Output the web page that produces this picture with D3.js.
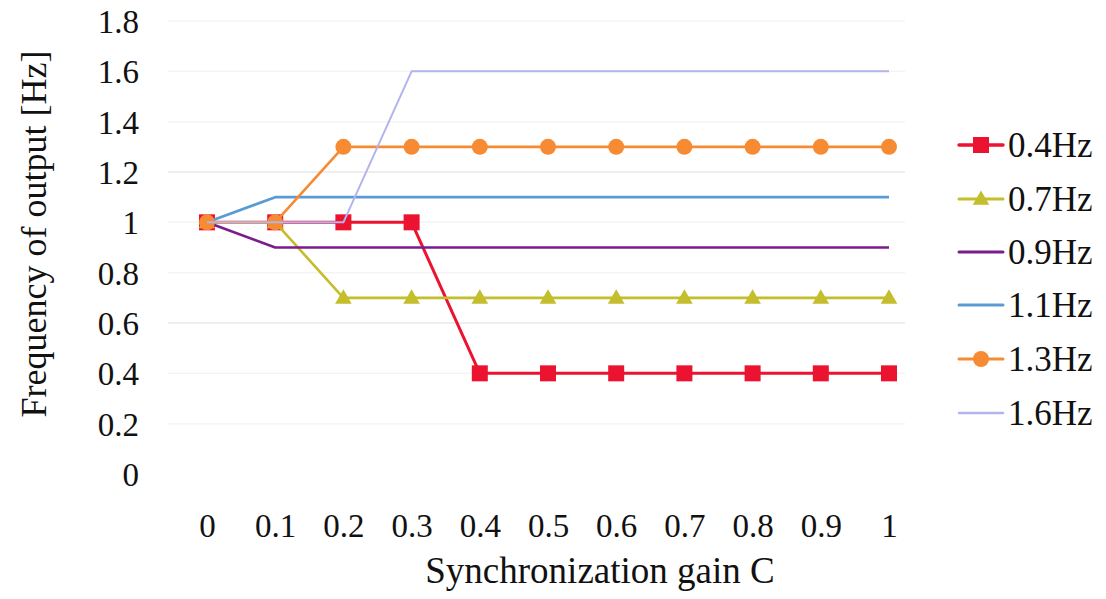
<!DOCTYPE html>
<html>
<head>
<meta charset="utf-8">
<script src="https://cdn.jsdelivr.net/npm/d3@7"></script>
<style>
  html, body { margin: 0; padding: 0; background: #fff; }
  svg { display: block; font-family: "Liberation Serif", "Times New Roman", serif; }
</style>
</head>
<body>
<svg id="chart" width="1106" height="599"></svg>
<script>
// Synchronization gain values along the x axis
const gains = [0, 0.1, 0.2, 0.3, 0.4, 0.5, 0.6, 0.7, 0.8, 0.9, 1];
const gainLabels = ["0", "0.1", "0.2", "0.3", "0.4", "0.5", "0.6", "0.7", "0.8", "0.9", "1"];
const yTicks = [0, 0.2, 0.4, 0.6, 0.8, 1, 1.2, 1.4, 1.6, 1.8];
const yTickLabels = ["0", "0.2", "0.4", "0.6", "0.8", "1", "1.2", "1.4", "1.6", "1.8"];

// Output frequency for each input frequency
const seriesNames = ["0.4Hz", "0.7Hz", "0.9Hz", "1.1Hz", "1.3Hz", "1.6Hz"];
const f04 = [1, 1, 1, 1, 0.4, 0.4, 0.4, 0.4, 0.4, 0.4, 0.4];
const f07 = [1, 1, 0.7, 0.7, 0.7, 0.7, 0.7, 0.7, 0.7, 0.7, 0.7];
const f09 = [1, 0.9, 0.9, 0.9, 0.9, 0.9, 0.9, 0.9, 0.9, 0.9, 0.9];
const f11 = [1, 1.1, 1.1, 1.1, 1.1, 1.1, 1.1, 1.1, 1.1, 1.1, 1.1];
const f13 = [1, 1, 1.3, 1.3, 1.3, 1.3, 1.3, 1.3, 1.3, 1.3, 1.3];
const f16 = [1, 1, 1, 1.6, 1.6, 1.6, 1.6, 1.6, 1.6, 1.6, 1.6];

const styles = [
  { values: f04, color: "#ec1330", width: 3, marker: "square" },
  { values: f07, color: "#c4bd2c", width: 2.6, marker: "triangle" },
  { values: f09, color: "#7b1c8c", width: 2.6, marker: null },
  { values: f11, color: "#5a9bd3", width: 2.6, marker: null },
  { values: f13, color: "#f68b33", width: 2.6, marker: "circle" },
  { values: f16, color: "#b3b3ee", width: 2, marker: null }
];

const svg = d3.select("#chart");

const x = d3.scaleLinear().domain([0, 1]).range([207, 889]);
const y = d3.scaleLinear().domain([0, 1.8]).range([474, 21]);

// faint horizontal gridlines
svg.append("g")
  .selectAll("line")
  .data(yTicks.filter(d => d > 0))
  .join("line")
  .attr("x1", 168).attr("x2", 905)
  .attr("y1", d => y(d)).attr("y2", d => y(d))
  .attr("stroke", d => (d === 0.6 || d === 1.2) ? "#e8e8e8" : "#f4f4f4")
  .attr("stroke-width", 1.5);

// y axis tick labels (no axis line)
const yAxis = d3.axisLeft(y).tickValues(yTicks)
  .tickFormat((d, i) => yTickLabels[i]).tickSize(0).tickPadding(0);
const gy = svg.append("g").attr("transform", "translate(139,0)").call(yAxis);
gy.select(".domain").remove();
gy.selectAll("text")
  .attr("font-family", "Liberation Serif, serif")
  .attr("font-size", 33).attr("fill", "#111")
  .attr("dy", "0.35em");

// x axis tick labels (no axis line)
const xAxis = d3.axisBottom(x).tickValues(gains)
  .tickFormat((d, i) => gainLabels[i]).tickSize(0).tickPadding(0);
const gx = svg.append("g").attr("transform", "translate(0,525)").call(xAxis);
gx.select(".domain").remove();
gx.selectAll("text")
  .attr("font-family", "Liberation Serif, serif")
  .attr("font-size", 33).attr("fill", "#111")
  .attr("dy", "0.35em");

// axis titles
svg.append("text")
  .attr("x", 600).attr("y", 583)
  .attr("text-anchor", "middle")
  .attr("font-size", 37).attr("fill", "#111")
  .text("Synchronization gain C");

svg.append("text")
  .attr("transform", "translate(46,234) rotate(-90)")
  .attr("text-anchor", "middle")
  .attr("font-size", 36).attr("fill", "#111")
  .text("Frequency of output [Hz]");

// series lines
const line = d3.line().x((d, i) => x(gains[i])).y(d => y(d));

function drawMarker(g, type, color, cx, cy) {
  if (type === "square") {
    g.append("rect").attr("x", cx - 8).attr("y", cy - 8)
      .attr("width", 16).attr("height", 16).attr("fill", color);
  } else if (type === "circle") {
    g.append("circle").attr("cx", cx).attr("cy", cy).attr("r", 8).attr("fill", color);
  } else if (type === "triangle") {
    g.append("path")
      .attr("d", d3.symbol().type(d3.symbolTriangle).size(120)())
      .attr("transform", `translate(${cx},${cy + 1})`)
      .attr("fill", color);
  }
}

styles.forEach(s => {
  const g = svg.append("g");
  g.append("path")
    .datum(s.values)
    .attr("d", line)
    .attr("fill", "none")
    .attr("stroke", s.color)
    .attr("stroke-width", s.width)
    .attr("stroke-linejoin", "round");
  if (s.marker) {
    s.values.forEach((v, i) => drawMarker(g, s.marker, s.color, x(gains[i]), y(v)));
  }
});

// legend
const legendY = [145, 199, 252, 305, 359, 413];
const legend = svg.append("g");
styles.forEach((s, i) => {
  const g = legend.append("g").attr("transform", `translate(0,${legendY[i]})`);
  g.append("line")
    .attr("x1", 959).attr("x2", 1003).attr("y1", 0).attr("y2", 0)
    .attr("stroke", s.color).attr("stroke-width", s.width + 0.4)
    .attr("stroke-linecap", "round");
  if (s.marker) drawMarker(g, s.marker, s.color, 981, 0);
  g.append("text")
    .attr("x", 1008).attr("y", 0)
    .attr("dy", "0.35em")
    .attr("font-size", 35).attr("fill", "#111")
    .text(seriesNames[i]);
});
</script>
</body>
</html>
